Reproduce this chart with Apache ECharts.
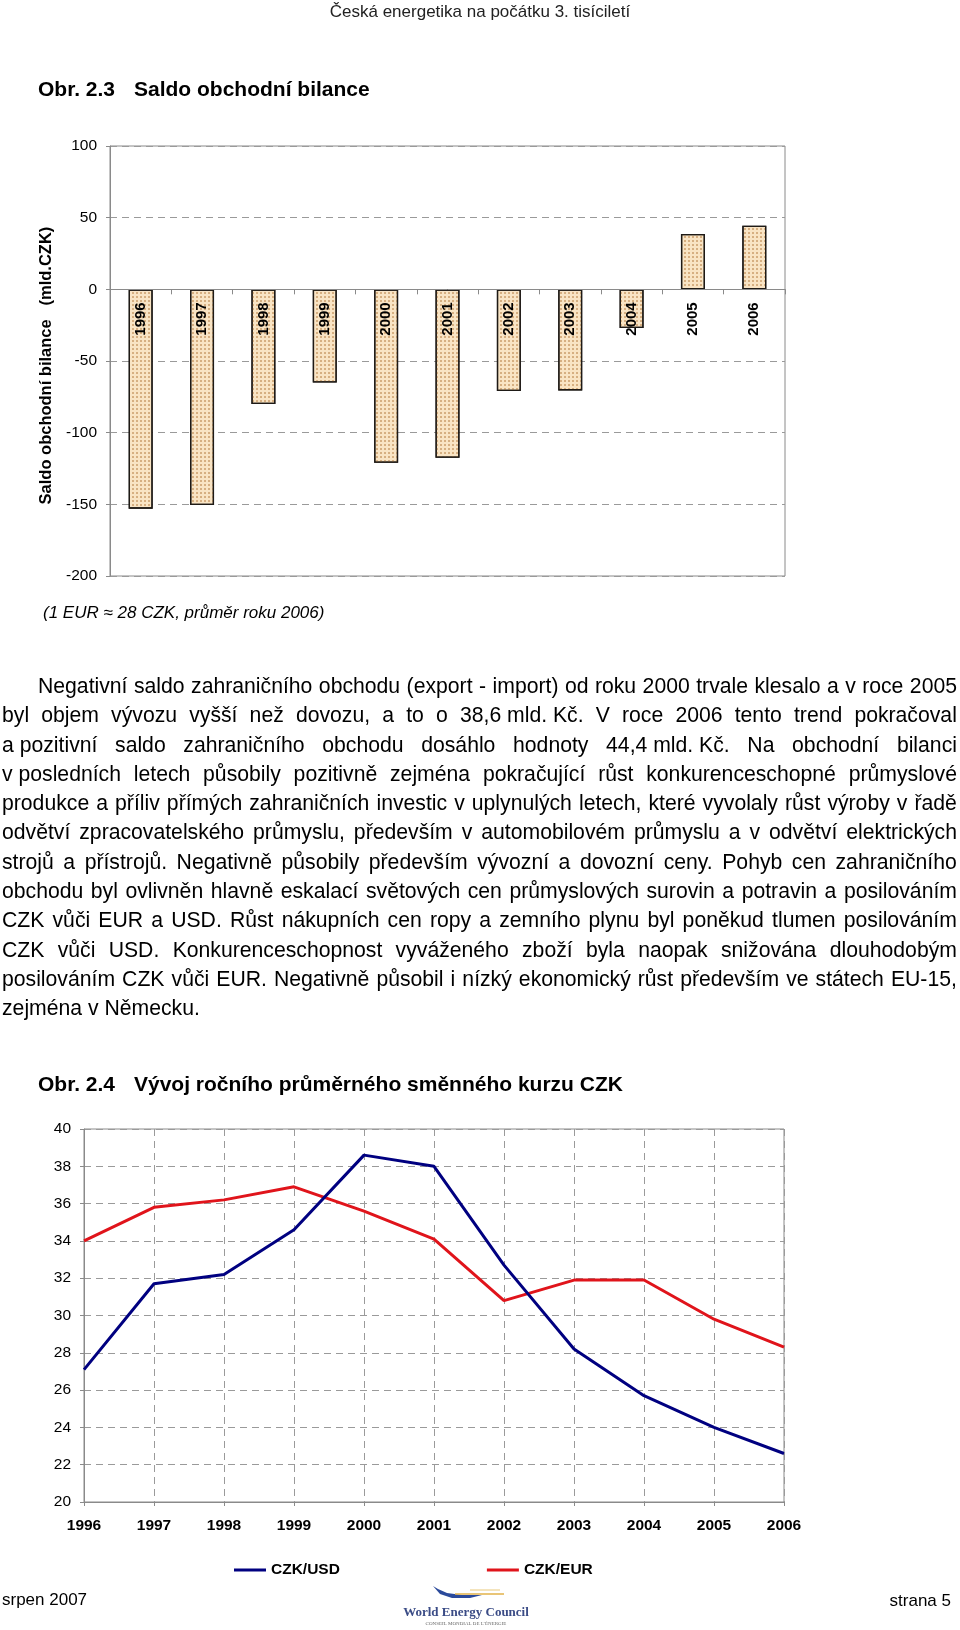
<!DOCTYPE html>
<html>
<head>
<meta charset="utf-8">
<script src="https://cdn.jsdelivr.net/npm/echarts@6/dist/echarts.min.js"></script>
<style>
  html, body { margin: 0; padding: 0; background: #fff; }
  #wrap { position: relative; width: 960px; height: 1630px; overflow: hidden; }
  #chart { position: absolute; left: 0; top: 0; width: 960px; height: 1630px; }
  #para { position: absolute; left: 2px; top: 671px; width: 955px;
          font-family: 'Liberation Sans', Arial, sans-serif; font-size: 21.2px;
          line-height: 29.3px; color: #000; }
  .ln { display: flex; justify-content: space-between; column-gap: 3px; white-space: nowrap; }
  .ln span { white-space: nowrap; }
  .last { white-space: nowrap; }
</style>
</head>
<body>
<div id="wrap">
  <div id="chart"></div>
  <div id="para"></div>
</div>
<script>
// ---- Data ----
const years = ['1996','1997','1998','1999','2000','2001','2002','2003','2004','2005','2006'];
const saldo = [-153, -150.5, -80, -65, -121, -117.5, -71, -70.5, -27, 38.6, 44.4];
const czkUsd = [27.1, 31.7, 32.2, 34.6, 38.6, 38.0, 32.7, 28.2, 25.7, 24.0, 22.6];
const czkEur = [34.0, 35.8, 36.2, 36.9, 35.6, 34.1, 30.8, 31.9, 31.9, 29.8, 28.3];
const seriesNames = ['CZK/USD', 'CZK/EUR'];

const headerText = 'Česká energetika na počátku 3. tisíciletí';
const title1Num = 'Obr. 2.3';
const title1 = 'Saldo obchodní bilance';
const title2Num = 'Obr. 2.4';
const title2 = 'Vývoj ročního průměrného směnného kurzu CZK';
const yName1 = 'Saldo obchodní bilance   (mld.CZK)  ';
const noteText = '(1 EUR ≈ 28 CZK, průměr roku 2006)';
const footLeft = 'srpen 2007';
const footRight = 'strana 5';

const paraLines = [
  'Negativní saldo zahraničního obchodu (export - import) od roku 2000 trvale klesalo a v roce 2005',
  'byl objem vývozu vyšší než dovozu, a to o 38,6\u00a0mld.\u00a0Kč. V roce 2006 tento trend pokračoval',
  'a\u00a0pozitivní saldo zahraničního obchodu dosáhlo hodnoty 44,4\u00a0mld.\u00a0Kč. Na obchodní bilanci',
  'v\u00a0posledních letech působily pozitivně zejména pokračující růst konkurenceschopné průmyslové',
  'produkce a příliv přímých zahraničních investic v uplynulých letech, které vyvolaly růst výroby v řadě',
  'odvětví zpracovatelského průmyslu, především v automobilovém průmyslu a v odvětví elektrických',
  'strojů a přístrojů. Negativně působily především vývozní a dovozní ceny. Pohyb cen zahraničního',
  'obchodu byl ovlivněn hlavně eskalací světových cen průmyslových surovin a potravin a posilováním',
  'CZK vůči EUR a USD. Růst nákupních cen ropy a zemního plynu byl poněkud tlumen posilováním',
  'CZK vůči USD. Konkurenceschopnost vyváženého zboží byla naopak snižována dlouhodobým',
  'posilováním CZK vůči EUR. Negativně působil i nízký ekonomický růst především ve státech EU-15,',
  'zejména v Německu.'
];

// ---- Paragraph (real text, justified) ----
const para = document.getElementById('para');
paraLines.forEach((line, i) => {
  const d = document.createElement('div');
  if (i === paraLines.length - 1) {
    d.className = 'last';
    d.textContent = line;
  } else {
    d.className = 'ln';
    if (i === 0) d.style.paddingLeft = '36px';
    line.split(' ').forEach(w => {
      const s = document.createElement('span');
      s.textContent = w;
      d.appendChild(s);
    });
  }
  para.appendChild(d);
});

// ---- Chart ----
const FONT = 'Liberation Sans, Arial, sans-serif';
const chart = echarts.init(document.getElementById('chart'), null, { renderer: 'canvas' });

function txt(text, x, y, opts) {
  return {
    type: 'text', x: x, y: y, silent: true,
    style: Object.assign({ text: text, fill: '#000', font: '17px ' + FONT, align: 'left', verticalAlign: 'middle' }, opts || {})
  };
}

const dashed = { show: true, lineStyle: { color: '#9a9a9a', type: [7, 5], width: 1 } };
const G1 = { left: 110, top: 146, width: 675, height: 430 };

const option = {
  animation: false,
  backgroundColor: '#fff',
  grid: [
    Object.assign({ show: true, borderColor: '#8a8a8a', borderWidth: 1, containLabel: false }, G1),
    { left: 84, top: 1129, width: 700, height: 373, show: true, borderColor: '#8a8a8a', borderWidth: 1, containLabel: false }
  ],
  xAxis: [
    {
      gridIndex: 0, type: 'category', data: years, z: 5, offset: 0,
      axisLine: { onZero: false, lineStyle: { color: '#8a8a8a', width: 1 } },
      axisTick: { show: true, alignWithLabel: false, length: 5, lineStyle: { color: '#8a8a8a' } },
      axisLabel: { rotate: 90, margin: 13, fontSize: 15, fontWeight: 'bold', color: '#000', fontFamily: FONT },
      splitLine: { show: false }
    },
    {
      gridIndex: 1, type: 'category', data: years, boundaryGap: false,
      axisLine: { lineStyle: { color: '#8a8a8a', width: 1 } },
      axisTick: { show: true, length: 4, lineStyle: { color: '#8a8a8a' } },
      axisLabel: { margin: 16, fontSize: 15.5, fontWeight: 'bold', color: '#000', fontFamily: FONT },
      splitLine: dashed
    }
  ],
  yAxis: [
    {
      gridIndex: 0, type: 'value', min: -200, max: 100, interval: 50,
      axisLine: { show: true, lineStyle: { color: '#8a8a8a' } },
      axisTick: { show: true, length: 4, lineStyle: { color: '#8a8a8a' } },
      axisLabel: { margin: 13, fontSize: 15.5, color: '#000', fontFamily: FONT },
      splitLine: dashed,
      name: yName1, nameLocation: 'middle', nameGap: 52,
      nameTextStyle: { fontSize: 16.5, fontWeight: 'bold', color: '#000', fontFamily: FONT }
    },
    {
      gridIndex: 1, type: 'value', min: 20, max: 40, interval: 2,
      axisLine: { show: true, lineStyle: { color: '#8a8a8a' } },
      axisTick: { show: true, length: 4, lineStyle: { color: '#8a8a8a' } },
      axisLabel: { margin: 13, fontSize: 15.5, color: '#000', fontFamily: FONT },
      splitLine: dashed
    }
  ],
  legend: {
    data: seriesNames,
    left: 234, top: 1562, padding: 0,
    icon: 'rect', itemWidth: 32, itemHeight: 3, itemGap: 147,
    textStyle: { fontSize: 15.5, fontWeight: 'bold', color: '#000', fontFamily: FONT },
    selectedMode: false
  },
  series: [
    {
      type: 'bar', xAxisIndex: 0, yAxisIndex: 0, data: saldo, barWidth: 24, z: 2,
      itemStyle: {
        color: '#f9e4c4', borderColor: '#1e1a16', borderWidth: 1.3,
        decal: { symbol: 'rect', symbolSize: 1, color: 'rgba(190,140,85,0.6)', dashArrayX: [1.5, 1.5], dashArrayY: [1.5, 1.5] }
      }
    },
    {
      name: seriesNames[0], type: 'line', xAxisIndex: 1, yAxisIndex: 1, data: czkUsd,
      showSymbol: false, symbol: 'none', lineStyle: { color: '#000080', width: 3 }, itemStyle: { color: '#000080' }, z: 4
    },
    {
      name: seriesNames[1], type: 'line', xAxisIndex: 1, yAxisIndex: 1, data: czkEur,
      showSymbol: false, symbol: 'none', lineStyle: { color: '#e0141b', width: 3 }, itemStyle: { color: '#e0141b' }, z: 3
    }
  ],
  graphic: [
    txt(headerText, 480, 12, { align: 'center', font: '17px ' + FONT, fill: '#222' }),
    txt(title1Num, 38, 90, { font: 'bold 21px ' + FONT }),
    txt(title1, 134, 90, { font: 'bold 21px ' + FONT }),
    txt(noteText, 43, 613, { font: 'italic 17px ' + FONT }),
    txt(title2Num, 38, 1085, { font: 'bold 21px ' + FONT }),
    txt(title2, 134, 1085, { font: 'bold 21px ' + FONT }),
    txt(footLeft, 2, 1600, { font: '17px ' + FONT }),
    txt(footRight, 951, 1601, { align: 'right', font: '17px ' + FONT }),
    // logo
    { type: 'polygon', silent: true, shape: { points: [[433,1586],[440,1594],[452,1598],[470,1598],[482,1595],[462,1595],[447,1593],[438,1589]] },
      style: { fill: '#2b4a9b' } },
    { type: 'line', silent: true, shape: { x1: 455, y1: 1594, x2: 504, y2: 1594 }, style: { stroke: '#e2b24a', lineWidth: 1.5 } },
    { type: 'line', silent: true, shape: { x1: 470, y1: 1590, x2: 500, y2: 1590 }, style: { stroke: '#e8c87a', lineWidth: 1 } },
    txt('World Energy Council', 466, 1613, { align: 'center', font: 'bold 13px Liberation Serif, serif', fill: '#3b4c86' }),
    txt('CONSEIL MONDIAL DE L\u2019ÉNERGIE', 466, 1624, { align: 'center', font: '5px Liberation Serif, serif', fill: '#666' })
  ]
};
chart.setOption(option);

// Move the category axis of the bar chart up to the zero line of its value axis
const zeroPx = chart.convertToPixel({ yAxisIndex: 0 }, 0);
const gridBottomPx = G1.top + G1.height;
chart.setOption({ xAxis: [{ offset: -(gridBottomPx - zeroPx) }, {}] });
</script>
</body>
</html>
